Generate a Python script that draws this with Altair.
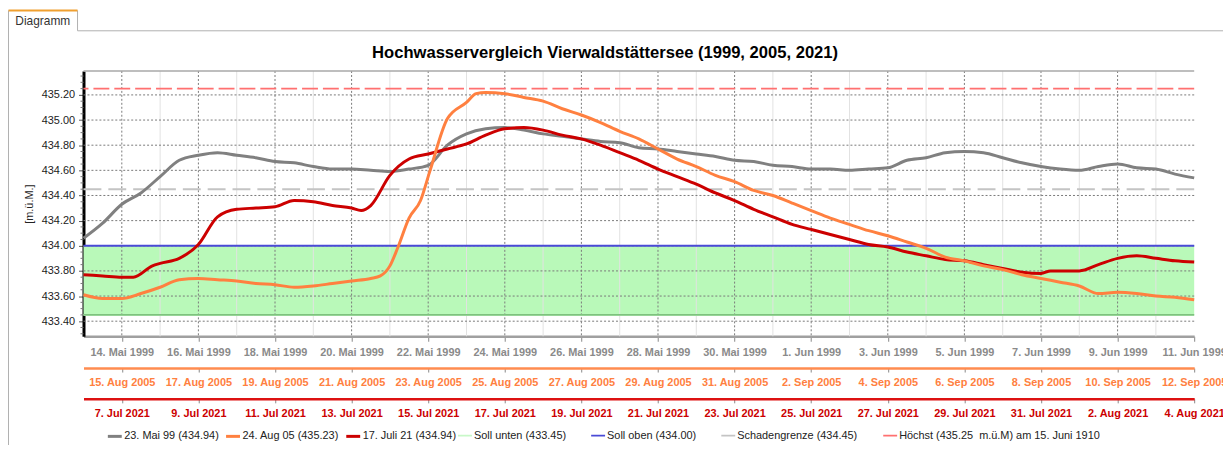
import altair as alt
import pandas as pd

# ---------------- texts ----------------
TITLE = "Hochwasservergleich Vierwaldstättersee (1999, 2005, 2021)"
TAB_LABEL = "Diagramm"
Y_TITLE = "[m.ü.M.]"
MONTHS_DE = ["Jan", "Feb", "Mär", "Apr", "Mai", "Jun", "Jul", "Aug", "Sep", "Okt", "Nov", "Dez"]

SERIES_LABELS = ["23. Mai 99 (434.94)", "24. Aug 05 (435.23)", "17. Juli 21 (434.94)"]
SERIES_COLORS = ["#808080", "#ff8040", "#cc0000"]
REF_LABELS = [
    "Soll unten (433.45)",
    "Soll oben (434.00)",
    "Schadengrenze (434.45)",
    "Höchst (435.25\u00a0 m.ü.M) am 15. Juni 1910",
]
REF_COLORS = ["#c8f8c8", "#4a4ad6", "#c4c4c4", "#ff7070"]

# ---------------- time ranges ----------------
START_1999, END_1999 = "1999-05-13", "1999-06-11"
START_2005, END_2005 = "2005-08-14", "2005-09-12"
START_2021, END_2021 = "2021-07-06", "2021-08-04"

TICKS_1999 = ["1999-05-14", "1999-05-16", "1999-05-18", "1999-05-20", "1999-05-22", "1999-05-24",
              "1999-05-26", "1999-05-28", "1999-05-30", "1999-06-01", "1999-06-03", "1999-06-05",
              "1999-06-07", "1999-06-09", "1999-06-11"]
MINOR_1999 = ["1999-05-15", "1999-05-17", "1999-05-19", "1999-05-21", "1999-05-23", "1999-05-25",
              "1999-05-27", "1999-05-29", "1999-05-31", "1999-06-02", "1999-06-04", "1999-06-06",
              "1999-06-08", "1999-06-10"]
TICKS_2005 = ["2005-08-15", "2005-08-17", "2005-08-19", "2005-08-21", "2005-08-23", "2005-08-25",
              "2005-08-27", "2005-08-29", "2005-08-31", "2005-09-02", "2005-09-04", "2005-09-06",
              "2005-09-08", "2005-09-10", "2005-09-12"]
TICKS_2021 = ["2021-07-07", "2021-07-09", "2021-07-11", "2021-07-13", "2021-07-15", "2021-07-17",
              "2021-07-19", "2021-07-21", "2021-07-23", "2021-07-25", "2021-07-27", "2021-07-29",
              "2021-07-31", "2021-08-02", "2021-08-04"]

Y_TICKS = [433.40, 433.60, 433.80, 434.00, 434.20, 434.40, 434.60, 434.80, 435.00, 435.20]
Y_MINOR = [433.30, 433.35, 433.45, 433.50, 433.55, 433.65, 433.70, 433.75, 433.85, 433.90, 433.95,
           434.05, 434.10, 434.15, 434.25, 434.30, 434.35, 434.45, 434.50, 434.55, 434.65, 434.70,
           434.75, 434.85, 434.90, 434.95, 435.05, 435.10, 435.15, 435.25, 435.30, 435.35]
Y_DOMAIN = [433.28, 435.39]

# ---------------- reference levels ----------------
SOLL_UNTEN = 433.45
SOLL_OBEN = 434.00
SCHADENGRENZE = 434.45
HOECHST = 435.25

# ---------------- series (day offset from start, level) ----------------
DAYS_1999 = [0, 0.5, 1, 1.5, 2, 2.5, 3, 3.5, 4, 4.5, 5, 5.5, 6, 6.5, 7, 7.5, 8, 8.5, 9, 9.5, 10,
             10.5, 11, 11.5, 12, 12.5, 13, 13.5, 14, 14.5, 15, 15.5, 16, 16.5, 17, 17.5, 18, 18.5,
             19, 19.5, 20, 20.5, 21, 21.5, 22, 22.5, 23, 23.5, 24, 24.5, 25, 25.5, 26, 26.5, 27,
             27.5, 28, 28.5, 29]
LEVEL_1999 = [434.06, 434.18, 434.33, 434.42, 434.55, 434.68, 434.72, 434.74, 434.72, 434.70,
              434.67, 434.66, 434.63, 434.61, 434.61, 434.60, 434.59, 434.61, 434.64, 434.80,
              434.89, 434.93, 434.94, 434.92, 434.89, 434.87, 434.85, 434.83, 434.82, 434.78,
              434.77, 434.75, 434.73, 434.71, 434.68, 434.67, 434.64, 434.63, 434.61, 434.61,
              434.60, 434.61, 434.62, 434.68, 434.70, 434.74, 434.75, 434.74, 434.70, 434.66,
              434.63, 434.61, 434.60, 434.63, 434.65, 434.62, 434.61, 434.57, 434.54]

DAYS_2005 = [0, 0.5, 1, 1.5, 2, 2.5, 3, 3.5, 4, 4.5, 5, 5.5, 6, 6.5, 7, 7.5, 7.75, 8, 8.2, 8.5,
             8.8, 9.05, 9.5, 10, 10.25, 10.5, 11, 11.5, 12, 12.5, 13, 13.5, 14, 14.5, 15, 15.5, 16,
             16.5, 17, 17.5, 18, 18.5, 19, 19.5, 20, 20.5, 21, 21.5, 22, 22.5, 23, 23.5, 24, 24.5,
             25, 25.5, 26, 26.5, 27, 27.5, 28, 28.5, 29]
LEVEL_2005 = [433.61, 433.58, 433.58, 433.62, 433.67, 433.73, 433.74, 433.73, 433.72, 433.70,
              433.69, 433.67, 433.68, 433.70, 433.72, 433.74, 433.76, 433.84, 433.98, 434.22,
              434.36, 434.60, 435.01, 435.14, 435.21, 435.22, 435.21, 435.18, 435.15, 435.09,
              435.04, 434.98, 434.91, 434.85, 434.77, 434.69, 434.63, 434.56, 434.51, 434.44,
              434.40, 434.34, 434.28, 434.22, 434.17, 434.12, 434.08, 434.03, 433.98, 433.91,
              433.88, 433.84, 433.81, 433.77, 433.74, 433.71, 433.68, 433.62, 433.63, 433.62,
              433.60, 433.59, 433.57]

DAYS_2021 = [0, 0.5, 1, 1.3, 1.8, 2, 2.5, 3, 3.5, 4, 4.5, 5, 5.5, 6, 6.5, 7, 7.25, 7.5, 8, 8.5,
             9, 9.5, 10, 10.5, 11, 11.5, 12, 12.5, 13, 13.5, 14, 14.5, 15, 15.5, 16, 16.5, 17,
             17.5, 18, 18.5, 19, 19.5, 20, 20.5, 21, 21.5, 22, 22.5, 23, 23.5, 24, 24.5, 25,
             25.25, 26, 26.5, 27, 27.5, 28, 28.5, 29]
LEVEL_2021 = [433.77, 433.76, 433.75, 433.75, 433.84, 433.86, 433.90, 434.01, 434.23, 434.29,
              434.30, 434.31, 434.36, 434.35, 434.32, 434.30, 434.28, 434.32, 434.56, 434.69,
              434.73, 434.77, 434.81, 434.88, 434.93, 434.94, 434.92, 434.88, 434.85, 434.80,
              434.74, 434.68, 434.61, 434.55, 434.49, 434.42, 434.36, 434.29, 434.23, 434.17,
              434.13, 434.09, 434.05, 434.01, 433.99, 433.95, 433.92, 433.89, 433.88, 433.85,
              433.82, 433.79, 433.78, 433.80, 433.80, 433.85, 433.90, 433.92, 433.90, 433.88,
              433.87]


# ---------------- helpers ----------------
def iso(start, day):
    return (pd.Timestamp(start) + pd.Timedelta(days=day)).strftime("%Y-%m-%dT%H:%M:%SZ")


def dt(s):
    y, m, d = (int(p) for p in s.split("-"))
    return alt.DateTime(year=y, month=m, date=d, utc=True)


MONTH_JS = "[" + ",".join("'" + m + "'" for m in MONTHS_DE) + "]"
LABEL_EXPR = ("utcdate(datum.value) + '. ' + " + MONTH_JS +
              "[utcmonth(datum.value)] + ' ' + utcyear(datum.value)")

FONT = "Liberation Sans"
W, H = 1118, 267

Y_SCALE = alt.Scale(domain=Y_DOMAIN, nice=False, zero=False)
X1999 = alt.Scale(type="utc", domain=[dt(START_1999), dt(END_1999)], nice=False)
X2005 = alt.Scale(type="utc", domain=[dt(START_2005), dt(END_2005)], nice=False)
X2021 = alt.Scale(type="utc", domain=[dt(START_2021), dt(END_2021)], nice=False)
COLOR_SCALE = alt.Scale(domain=SERIES_LABELS, range=SERIES_COLORS)
STROKE_SCALE = alt.Scale(domain=REF_LABELS, range=REF_COLORS)

LEGEND_SERIES = alt.Legend(
    orient="none", legendX=23, legendY=359, direction="horizontal", title=None,
    symbolType="stroke", symbolStrokeWidth=3, symbolSize=196, labelFont=FONT,
    labelFontSize=11, labelColor="#222222", labelOffset=1, columnPadding=0,
    labelLimit=400, padding=0,
)
LEGEND_REF = alt.Legend(
    orient="none", legendX=376, legendY=359, direction="horizontal", title=None,
    symbolType="stroke", symbolStrokeWidth=2, symbolSize=196, symbolDash=[1, 0], labelFont=FONT,
    labelFontSize=11, labelColor="#222222", labelOffset=1, columnPadding=21,
    labelLimit=400, padding=0,
)


def x_axis(values, color, offset, tick_size, domain_color, domain_width):
    return alt.Axis(
        values=[dt(v) for v in values], labelExpr=LABEL_EXPR, orient="bottom", offset=offset,
        grid=False, title=None, labelFlush=False, labelOverlap=False, labelFont=FONT,
        labelFontSize=11, labelFontWeight="bold", labelColor=color, labelPadding=5,
        tickSize=tick_size, tickColor="#888888", domainColor=domain_color, domainWidth=domain_width,
    )


# ---------------- data frames ----------------
df1999 = pd.DataFrame({"date": [iso(START_1999, d) for d in DAYS_1999], "level": LEVEL_1999,
                       "series": SERIES_LABELS[0]})
df2005 = pd.DataFrame({"date": [iso(START_2005, d) for d in DAYS_2005], "level": LEVEL_2005,
                       "series": SERIES_LABELS[1]})
df2021 = pd.DataFrame({"date": [iso(START_2021, d) for d in DAYS_2021], "level": LEVEL_2021,
                       "series": SERIES_LABELS[2]})
df_vmajor = pd.DataFrame({"date": [s + "T00:00:00Z" for s in TICKS_1999[:-1]]})
df_vminor = pd.DataFrame({"date": [s + "T00:00:00Z" for s in MINOR_1999]})
df_hgrid = pd.DataFrame({"level": Y_TICKS})
df_yminor = pd.DataFrame({"level": Y_MINOR})
df_band = pd.DataFrame({"lo": [SOLL_UNTEN], "hi": [SOLL_OBEN]})
one = pd.DataFrame({"k": [0]})

# ---------------- base layer (1999 scale) ----------------
band = alt.Chart(df_band).mark_rect(color="#b9f9b9").encode(
    y=alt.Y("lo:Q", scale=Y_SCALE, axis=None), y2="hi:Q")

vminor = alt.Chart(df_vminor).mark_rule(color="#e2e2e2", strokeWidth=1).encode(
    x=alt.X("date:T", scale=X1999, axis=None))
vmajor = alt.Chart(df_vmajor).mark_rule(color="#7a7a7a", strokeWidth=1, strokeDash=[2, 2]).encode(
    x=alt.X("date:T", scale=X1999, axis=None))
hgrid = alt.Chart(df_hgrid).mark_rule(color="#7a7a7a", strokeWidth=1, strokeDash=[2, 2]).encode(
    y=alt.Y("level:Q", scale=Y_SCALE, axis=None))
yminor = alt.Chart(df_yminor).mark_rule(color="#777777", strokeWidth=1).encode(
    y=alt.Y("level:Q", scale=Y_SCALE, axis=None), x=alt.value(-3), x2=alt.value(0))


def ref_rule(level, name, width, dash):
    df = pd.DataFrame({"level": [level], "name": [name]})
    return alt.Chart(df).mark_rule(strokeWidth=width, strokeDash=dash).encode(
        y=alt.Y("level:Q", scale=Y_SCALE, axis=None),
        stroke=alt.Stroke("name:N", scale=STROKE_SCALE, legend=LEGEND_REF))


r_unten_key = ref_rule(SOLL_UNTEN, REF_LABELS[0], 2, [1, 0])
r_oben = ref_rule(SOLL_OBEN, REF_LABELS[1], 2, [1, 0])
r_schaden = ref_rule(SCHADENGRENZE, REF_LABELS[2], 2, [18, 7])
r_hoechst = ref_rule(HOECHST, REF_LABELS[3], 2, [16, 5])
r_unten = alt.Chart(pd.DataFrame({"level": [SOLL_UNTEN]})).mark_rule(
    color="#66b066", strokeWidth=1.2).encode(y=alt.Y("level:Q", scale=Y_SCALE, axis=None))

top_border = alt.Chart(one).mark_rule(color="#a8a8a8", strokeWidth=1.5).encode(
    x=alt.value(0), x2=alt.value(W), y=alt.value(0))

# title and tab decoration
title_text = alt.Chart(one).mark_text(font=FONT, fontSize=16.7, fontWeight="bold", color="#000000",
                                      align="center", baseline="middle").encode(
    x=alt.value(W / 2 - 34), y=alt.value(-18), text=alt.value(TITLE))
tab_text = alt.Chart(one).mark_text(font=FONT, fontSize=12, color="#333333", align="center",
                                    baseline="middle").encode(
    x=alt.value(-41), y=alt.value(-50), text=alt.value(TAB_LABEL))
tab_line = alt.Chart(one).mark_rule(color="#b0b0b0", strokeWidth=1).encode(
    x=alt.value(-6), x2=alt.value(W + 40), y=alt.value(-40.5))
tab_left = alt.Chart(one).mark_rule(color="#b0b0b0", strokeWidth=1).encode(
    x=alt.value(-75.5), y=alt.value(-61), y2=alt.value(390))
tab_right = alt.Chart(one).mark_rule(color="#b0b0b0", strokeWidth=1).encode(
    x=alt.value(-6), y=alt.value(-61), y2=alt.value(-40.5))
tab_top = alt.Chart(one).mark_rule(color="#f0a030", strokeWidth=2).encode(
    x=alt.value(-75.5), x2=alt.value(-6), y=alt.value(-61))

line1999 = alt.Chart(df1999).mark_line(strokeWidth=3, interpolate="monotone").encode(
    x=alt.X("date:T", scale=X1999,
            axis=x_axis(TICKS_1999, "#8a8a8a", 0, 5, "#a0a0a0", 2.5)),
    y=alt.Y("level:Q", scale=Y_SCALE,
            axis=alt.Axis(values=Y_TICKS, format=".2f", orient="left", title=Y_TITLE,
                          titleFont=FONT, titleFontSize=11, titleFontWeight="normal",
                          titleColor="#222222", titlePadding=7, labelFont=FONT, labelFontSize=11,
                          labelColor="#222222", labelPadding=4, tickSize=5, tickColor="#555555",
                          domainColor="#000000", domainWidth=3, grid=False)),
    color=alt.Color("series:N", scale=COLOR_SCALE, legend=LEGEND_SERIES),
)

base = alt.layer(band, vminor, vmajor, hgrid, yminor, r_unten_key, r_unten, r_oben, r_schaden,
                 r_hoechst, top_border, title_text, tab_text, tab_line, tab_left, tab_right,
                 tab_top, line1999).resolve_axis(x="independent", y="independent")

line2021 = alt.Chart(df2021).mark_line(strokeWidth=3, interpolate="monotone").encode(
    x=alt.X("date:T", scale=X2021,
            axis=x_axis(TICKS_2021, "#cc0000", 63, 4, "#dd1111", 2.5)),
    y=alt.Y("level:Q", scale=Y_SCALE, axis=None),
    color=alt.Color("series:N", scale=COLOR_SCALE, legend=LEGEND_SERIES),
)

line2005 = alt.Chart(df2005).mark_line(strokeWidth=3, interpolate="monotone").encode(
    x=alt.X("date:T", scale=X2005,
            axis=x_axis(TICKS_2005, "#ff8040", 32, 4, "#ff8c50", 2.5)),
    y=alt.Y("level:Q", scale=Y_SCALE, axis=None),
    color=alt.Color("series:N", scale=COLOR_SCALE, legend=LEGEND_SERIES),
)

chart = (
    alt.layer(base, line2021, line2005)
    .resolve_scale(x="independent")
    .resolve_axis(x="independent", y="independent")
    .properties(
        width=W, height=H,
        padding={"left": 76, "top": 62, "right": 29, "bottom": 108},
        autosize=alt.AutoSizeParams(type="none"),
    )
    .configure(font=FONT, background="white")
    .configure_view(stroke=None)
)

chart.save("out.html", embed_options={"renderer": "svg", "actions": False})
